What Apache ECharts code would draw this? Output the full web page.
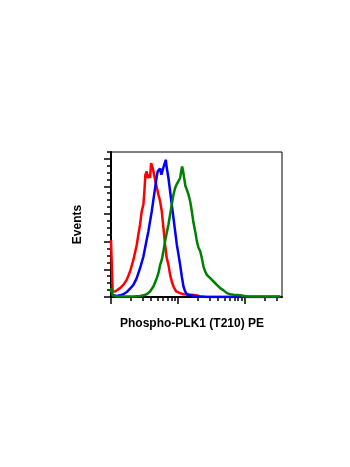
<!DOCTYPE html>
<html>
<head>
<meta charset="utf-8">
<script src="https://cdn.jsdelivr.net/npm/echarts@6/dist/echarts.min.js"></script>
<style>html,body{margin:0;padding:0;background:#fff}#c{width:350px;height:467px}</style>
</head>
<body>
<div id="c"></div>
<script>
var xAxisName = 'Phospho-PLK1 (T210) PE';
var yAxisName = 'Events';
var xMajorTicks = [1, 10, 100];
var xMinorTicks = [2,3,4,5,6,7,8,9,20,30,40,50,60,70,80,90,200,300];
var yMajorTicks = [0, 50, 100, 150, 200, 250];
var yMinorTicks = [12.5,25,37.5,62.5,75,87.5,112.5,125,137.5,162.5,175,187.5,212.5,225,237.5,262];

var redX = [1.0,1.012,1.059,1.148,1.216,1.365,1.531,1.718,1.928,2.163,2.427,2.57,2.723,2.884,3.055,3.162,3.273,3.428,3.548,3.715,3.846,3.981,4.121,4.217,4.416,4.624,4.842,5.129,5.433,5.754,6.095,6.457,6.839,7.244,7.674,8.128,8.61,9.441,10.84,12.16,15.31,19.28,21.63,27.23,342.8];
var redY = [103,104,10,10,13,16,22,31,46,67,94,113,131,155,167,191,221,227,215,221,215,242,245,233,236,209,206,185,173,155,125,94,70,58,40,28,19,10,7,5,4,3,1,0,0];

var blueX = [1.0,1.012,1.084,1.216,1.365,1.531,1.718,1.928,2.163,2.427,2.723,3.055,3.428,3.631,3.846,4.074,4.315,4.571,4.842,5.012,5.248,5.433,5.689,5.957,6.237,6.607,6.839,7.244,7.674,8.128,8.61,9.12,9.661,10.23,10.84,11.48,12.16,12.88,13.65,15.31,19.28,27.23,342.8];
var blueY = [3,4,3,2,3,5,9,15,22,34,52,73,104,119,137,155,176,197,218,227,224,232,221,230,233,248,233,215,191,167,143,119,95,77,58,37,19,10,5,3,1,0,0];

var greenX = [1.0,1.012,1.059,1.216,1.718,2.163,2.723,3.055,3.428,3.846,4.315,4.842,5.129,5.433,5.754,6.095,6.457,6.839,7.244,7.674,8.128,8.61,9.12,9.661,10.23,10.84,11.22,11.61,12.02,12.45,13.03,13.65,14.45,15.31,16.22,17.18,18.2,19.28,20.42,21.63,22.91,24.27,25.7,27.23,30.55,34.28,38.46,43.15,48.42,54.33,60.95,68.39,86.1,108.4,172.2,342.8];
var greenY = [8,16,3,1,1,1,2,3,5,10,19,34,43,58,67,83,101,116,131,149,167,185,197,204,206,215,227,236,227,215,200,194,185,173,155,134,119,101,89,83,70,55,46,40,34,28,22,16,12,7,5,4,3,1,1,1];

function pairs(xs, ys){ return xs.map(function(x,i){ return [x, ys[i]]; }); }

var chart = echarts.init(document.getElementById('c'), null, {renderer:'canvas'});
var fontFam = '"Liberation Sans", Arial, sans-serif';
chart.setOption({
  animation:false,
  backgroundColor:'#fff',
  grid:{left:111, right:68, top:152, bottom:170, show:true, borderColor:'#000', borderWidth:1, backgroundColor:'transparent'},
  xAxis:[{
    type:'log', logBase:10, min:1, max:363,
    name:xAxisName, nameLocation:'middle', nameGap:21,
    nameTextStyle:{fontFamily:fontFam, fontWeight:'bold', fontSize:12, color:'#000', padding:[0,9,0,0]},
    axisLine:{show:true, lineStyle:{color:'#000', width:2}},
    axisTick:{show:true, length:7, lineStyle:{color:'#000', width:1.5}, customValues:xMajorTicks},
    axisLabel:{show:false}, splitLine:{show:false}, minorTick:{show:false}, minorSplitLine:{show:false}
  },{
    type:'log', logBase:10, min:1, max:363, position:'bottom',
    axisLine:{show:false},
    axisTick:{show:true, length:4, lineStyle:{color:'#000', width:1.5}, customValues:xMinorTicks},
    axisLabel:{show:false}, splitLine:{show:false}
  }],
  yAxis:[{
    type:'value', min:0, max:262,
    name:yAxisName, nameLocation:'middle', nameGap:27,
    nameTextStyle:{fontFamily:fontFam, fontWeight:'bold', fontSize:12, color:'#000'},
    axisLine:{show:true, lineStyle:{color:'#000', width:2}},
    axisTick:{show:true, length:7, lineStyle:{color:'#000', width:1.5}, customValues:yMajorTicks},
    axisLabel:{show:false}, splitLine:{show:false}
  },{
    type:'value', min:0, max:262, position:'left',
    axisLine:{show:false},
    axisTick:{show:true, length:4, lineStyle:{color:'#000', width:1.5}, customValues:yMinorTicks},
    axisLabel:{show:false}, splitLine:{show:false}
  }],
  series:[
    {type:'line', data:pairs(redX, redY), showSymbol:false, symbol:'none', lineStyle:{color:'#ff0000', width:2.5}, itemStyle:{color:'#ff0000'}, z:3},
    {type:'line', data:pairs(blueX, blueY), showSymbol:false, symbol:'none', lineStyle:{color:'#0000ff', width:2.5}, itemStyle:{color:'#0000ff'}, z:3},
    {type:'line', data:pairs(greenX, greenY), showSymbol:false, symbol:'none', lineStyle:{color:'#008000', width:2.5}, itemStyle:{color:'#008000'}, z:3}
  ]
});
</script>
</body>
</html>
